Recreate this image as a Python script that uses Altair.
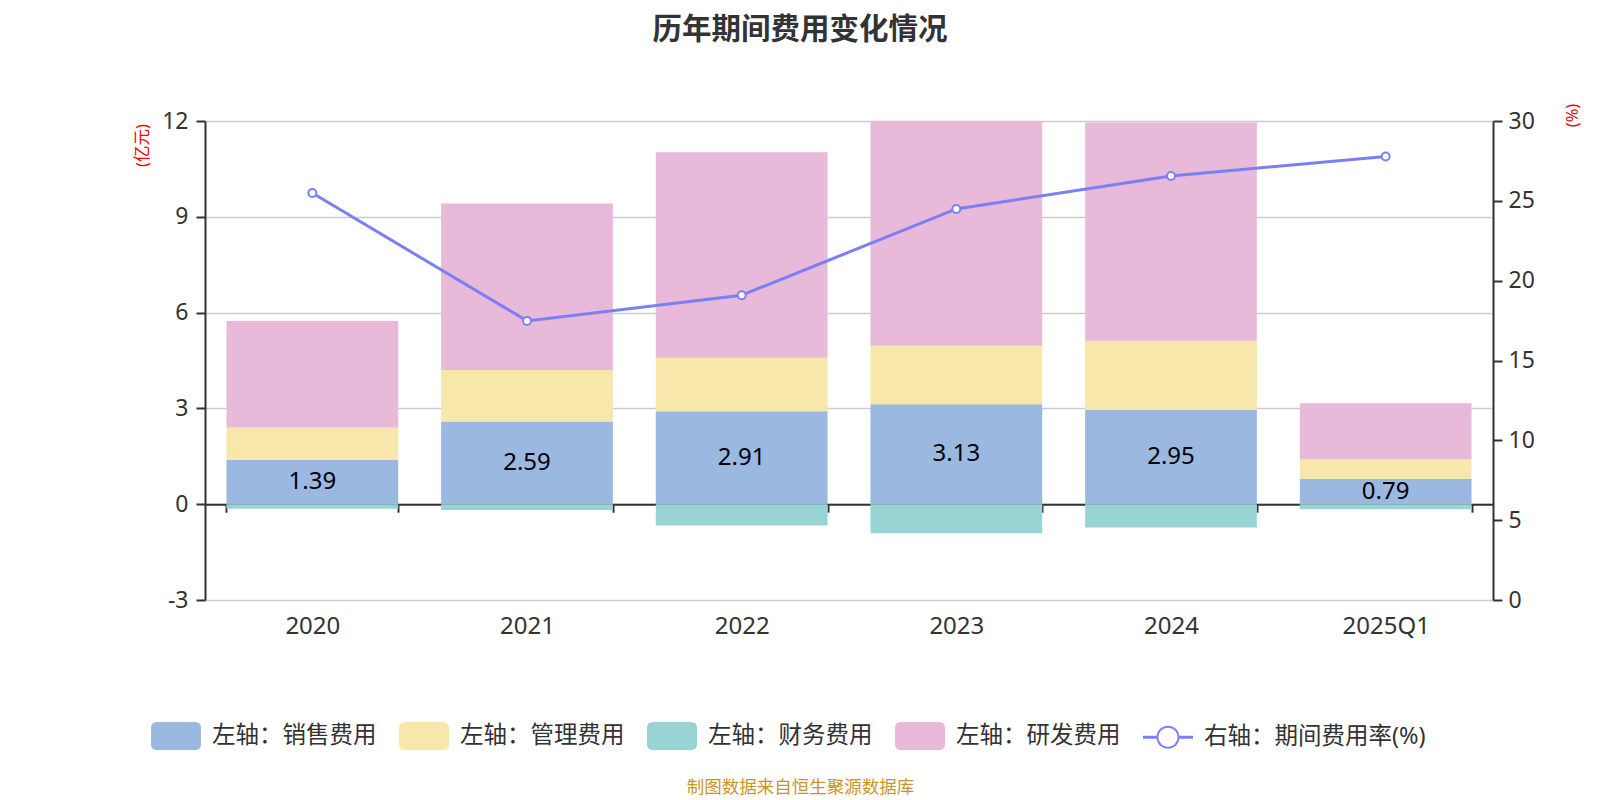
import altair as alt
import pandas as pd

# ---------------- data ----------------
years = ["2020", "2021", "2022", "2023", "2024", "2025Q1"]
sales = [1.39, 2.59, 2.91, 3.13, 2.95, 0.79]        # 销售费用 (亿元)
admin = [1.01, 1.61, 1.68, 1.83, 2.17, 0.62]        # 管理费用 (亿元)
finance = [-0.14, -0.18, -0.67, -0.91, -0.73, -0.16]  # 财务费用 (亿元)
rnd = [3.34, 5.22, 6.43, 7.03, 6.83, 1.75]          # 研发费用 (亿元)
rate = [25.49, 17.48, 19.09, 24.49, 26.55, 27.78]   # 期间费用率 (%)

series_names = ["左轴：销售费用", "左轴：管理费用", "左轴：财务费用", "左轴：研发费用"]
line_name = "右轴：期间费用率(%)"
left_ticks = [-3, 0, 3, 6, 9, 12]
right_ticks = [0, 5, 10, 15, 20, 25, 30]

colors = ["#9bb8e1", "#f8e7aa", "#98d4d4", "#e8b9d8"]
LINE = "#7b7ff6"
TXT = "#333333"
FONT = "Noto Sans, Noto Sans CJK SC"

W, H = 1288, 479

# ---------------- tables ----------------
rows = []
for i, (name, vals) in enumerate(zip(series_names, [sales, admin, finance, rnd])):
    for y, v in zip(years, vals):
        rows.append({"year": y, "series": name, "value": v, "ord": i})
df_long = pd.DataFrame(rows)
df_wide = pd.DataFrame({"year": years, "sales": sales, "rate": rate})


# ---------------- legend symbols (unit coords, scaled by sqrt(size)/2) ----------------
def f(v):
    return f"{round(v, 4):g}"


def rrect(hw=1.0, hh=0.56, r=0.24):
    return (f"M{f(-hw + r)},{f(-hh)}L{f(hw - r)},{f(-hh)}Q{f(hw)},{f(-hh)},{f(hw)},{f(-hh + r)}"
            f"L{f(hw)},{f(hh - r)}Q{f(hw)},{f(hh)},{f(hw - r)},{f(hh)}L{f(-hw + r)},{f(hh)}"
            f"Q{f(-hw)},{f(hh)},{f(-hw)},{f(hh - r)}L{f(-hw)},{f(-hh + r)}Q{f(-hw)},{f(-hh)},{f(-hw + r)},{f(-hh)}Z")


def circ(r, ccw=False):
    k = 0.5523 * r
    if not ccw:
        return (f"M{f(r)},0C{f(r)},{f(k)},{f(k)},{f(r)},0,{f(r)}C{f(-k)},{f(r)},{f(-r)},{f(k)},{f(-r)},0"
                f"C{f(-r)},{f(-k)},{f(-k)},{f(-r)},0,{f(-r)}C{f(k)},{f(-r)},{f(r)},{f(-k)},{f(r)},0Z")
    return (f"M{f(r)},0C{f(r)},{f(-k)},{f(k)},{f(-r)},0,{f(-r)}C{f(-k)},{f(-r)},{f(-r)},{f(-k)},{f(-r)},0"
            f"C{f(-r)},{f(k)},{f(-k)},{f(r)},0,{f(r)}C{f(k)},{f(r)},{f(r)},{f(k)},{f(r)},0Z")


ro, ri, lh = 0.46, 0.38, 0.06
line_sym = (f"M-1,{f(-lh)}L{f(-ro)},{f(-lh)}L{f(-ro)},{f(lh)}L-1,{f(lh)}Z"
            f"M{f(ro)},{f(-lh)}L1,{f(-lh)}L1,{f(lh)}L{f(ro)},{f(lh)}Z"
            + circ(ro) + circ(ri, ccw=True))
rect_sym = rrect()
sym_expr = f"datum.value === '{line_name}' ? '{line_sym}' : '{rect_sym}'"

# ---------------- encodings ----------------
x_axis = alt.Axis(
    title="制图数据来自恒生聚源数据库", titleColor="#c9952b", titleFontSize=17.5,
    titleFontWeight="normal", titleX=595, titleY=283, titleAlign="center",
    titleBaseline="middle", titleAngle=0,
    labelAngle=0, labelFontSize=24, labelColor=TXT, labelPadding=102,
    tickBand="extent", tickSize=8, tickWidth=2, tickColor=TXT,
    domainColor=TXT, domainWidth=2, offset=-0.2 * H, grid=False,
)
x_enc = alt.X("year:N", sort=years,
              scale=alt.Scale(paddingInner=0.2, paddingOuter=0.1), axis=x_axis)
x_plain = alt.X("year:N", sort=years)

left_scale = alt.Scale(domain=[-3, 12], nice=False, zero=False)
left_axis = alt.Axis(
    values=left_ticks, labelExpr="'' + datum.value",
    title="(亿元)", titleColor="#ff0000", titleFontSize=16.5,
    titleFontWeight="normal", titleAngle=270, titleX=-63, titleY=24,
    titleAlign="center", titleBaseline="middle",
    labelFontSize=23, labelColor=TXT, labelPadding=8,
    tickSize=9, tickWidth=2, tickColor=TXT, domainColor=TXT, domainWidth=2,
    grid=True, gridColor="#cccccc", gridWidth=1.5,
)
right_axis = alt.Axis(
    orient="right", values=right_ticks, title="(%)", titleColor="#ff0000",
    titleFontSize=16.5, titleFontWeight="normal", titleAngle=270, titleX=79, titleY=-6,
    titleAlign="center", titleBaseline="middle",
    labelFontSize=23, labelColor=TXT, labelPadding=6,
    tickSize=9, tickWidth=2, tickColor=TXT, domainColor=TXT, domainWidth=2, grid=False,
)

legend = alt.Legend(
    title=None, orient="none", legendX=-54, legendY=590, direction="horizontal",
    columns=5, symbolType={"expr": sym_expr}, symbolSize=2500, symbolStrokeWidth=0,
    symbolOpacity=1, labelFontSize=23.5, labelColor=TXT, labelLimit=600,
    labelOffset=11, columnPadding=22, padding=0,
)

bars = alt.Chart(df_long).mark_bar().encode(
    x=x_enc,
    y=alt.Y("value:Q", stack="zero", scale=left_scale, axis=left_axis),
    color=alt.Color("series:N",
                    scale=alt.Scale(domain=series_names + [line_name], range=colors + [LINE]),
                    legend=legend),
    order=alt.Order("ord:Q"),
)

labels = alt.Chart(df_wide).transform_calculate(mid="datum.sales / 2").mark_text(
    fontSize=24, color="#000000", baseline="middle", align="center"
).encode(
    x=x_plain,
    y=alt.Y("mid:Q", scale=left_scale),
    text=alt.Text("sales:Q", format=".2f"),
)

rate_scale = alt.Scale(domain=[0, 30], nice=False)
line = alt.Chart(df_wide).mark_line(color=LINE, strokeWidth=3).encode(
    x=x_plain,
    y=alt.Y("rate:Q", scale=rate_scale, axis=right_axis),
)
points = alt.Chart(df_wide).mark_point(
    shape="circle", size=64, filled=True, fill="white", stroke=LINE, strokeWidth=2, opacity=1
).encode(
    x=x_plain,
    y=alt.Y("rate:Q", scale=rate_scale),
)

left = alt.layer(bars, labels)
right = alt.layer(line, points)

chart = alt.layer(left, right).resolve_scale(y="independent").properties(
    width=W, height=H,
    title=alt.TitleParams(text="历年期间费用变化情况", fontSize=29.5, fontWeight="bold",
                          color=TXT, anchor="middle", dx=-49, offset=58, font=FONT),
    padding={"left": 197, "top": 113, "right": 99, "bottom": 198},
    autosize=alt.AutoSizeParams(type="none"),
).configure(font=FONT).configure_view(stroke=None)

chart.save("out.html", embed_options={"renderer": "svg", "actions": False})
